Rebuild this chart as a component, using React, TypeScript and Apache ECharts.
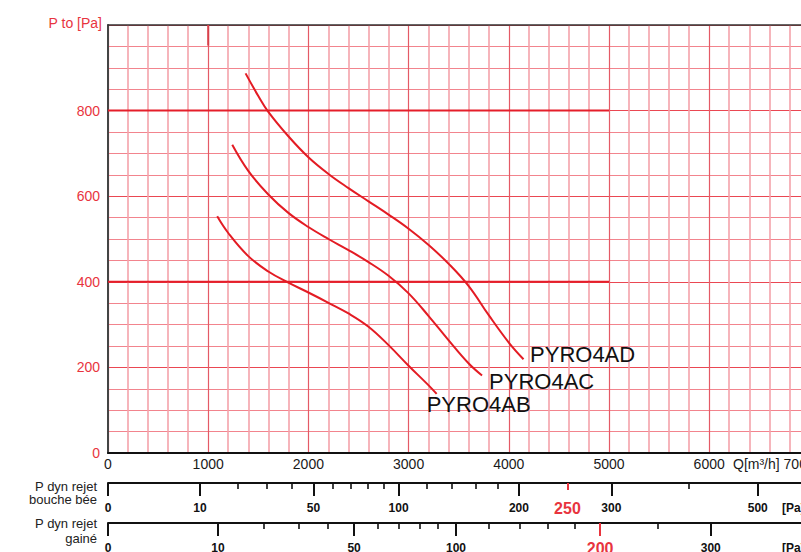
import React, { useEffect, useRef } from "react";
import * as echarts from "echarts";

// ---- data ----
const qMax = 7000;
const qLabelLast = 6000;
const pMax = 1000;
const thickLevels = [400, 800];
const thickEnd = 5000;
const markQ = 1000;
const markRange = [1000, 952];

const curveNames = ["PYRO4AB", "PYRO4AC", "PYRO4AD"];
const curveAB: number[][] = [
  [1090, 553], [1200, 514], [1400, 460], [1600, 424], [1800, 398], [2000, 375],
  [2200, 351], [2400, 326], [2600, 295], [2800, 252], [3000, 204], [3200, 158], [3280, 138],
];
const curveAC: number[][] = [
  [1240, 720], [1400, 659], [1600, 604], [1800, 561], [2000, 528], [2200, 500],
  [2400, 474], [2600, 446], [2800, 414], [3000, 373], [3200, 320], [3400, 263],
  [3600, 209], [3733, 181],
];
const curveAD: number[][] = [
  [1373, 887], [1500, 834], [1600, 797], [1800, 740], [2000, 691], [2200, 652],
  [2400, 619], [2600, 588], [2800, 557], [3000, 524], [3200, 486], [3400, 442],
  [3600, 390], [3800, 322], [4000, 258], [4147, 219],
];

// dynamic pressure scales (Pa); position Q = k * sqrt(Pd)
const kBouche = 290;
const bbMajor = [0, 10, 50, 100, 200, 300, 500];
const bbMinor = [20, 30, 40, 60, 70, 80, 90, 120, 140, 160, 180, 400];
const bbRed = [250];
const kGaine = 347.3;
const gMajor = [0, 10, 50, 100, 300];
const gMinor = [20, 30, 40, 60, 70, 80, 90, 120, 140, 160, 180, 250];
const gRed = [200];

const scaleTitles = ["P dyn rejet\nbouche bée", "P dyn rejet\ngainé"];
const unitLabel = "[Pa]";
const qTitle = "Q[m³/h] 7000";
const yTitle = "P to [Pa]";

// ---- styles ----
const FONT = "Liberation Sans, Arial, Helvetica, sans-serif";
const RED = "#e8343e";
const CURVE = "#e31b23";
const labelOffsets: Record<string, number[]> = {
  PYRO4AB: [-18, 11],
  PYRO4AC: [-1, 6],
  PYRO4AD: [-1.5, -5],
};

function scaleAxis(
  values: number[],
  k: number,
  offset: number,
  o: { line: boolean; tickLen: number; tickColor: string; tickWidth: number; labels: boolean; labelColor?: string; labelSize?: number; margin?: number }
) {
  const qs = values.map((v) => k * Math.sqrt(v));
  return {
    type: "value",
    gridIndex: 0,
    min: 0,
    max: qMax,
    position: "bottom",
    offset,
    axisLine: { show: o.line, onZero: false, lineStyle: { color: "#111", width: 2 } },
    axisTick: {
      show: true,
      customValues: qs,
      length: o.tickLen,
      lineStyle: { color: o.tickColor, width: o.tickWidth },
    },
    axisLabel: {
      show: o.labels,
      customValues: qs,
      formatter: (q: number) => String(Math.round((q / k) * (q / k))),
      fontFamily: FONT,
      fontWeight: "bold",
      fontSize: o.labelSize || 12,
      color: o.labelColor || "#111",
      margin: o.margin ?? 19,
    },
    splitLine: { show: false },
    minorSplitLine: { show: false },
  };
}

export default function App() {
  const ref = useRef<HTMLDivElement>(null);
  useEffect(() => {
    document.body.style.margin = "0";
    if (!ref.current) return;
    const chart = echarts.init(ref.current, undefined, { renderer: "svg" });

    const curves = [curveAB, curveAC, curveAD];
    const curveSeries = curves.map((d, i) => ({
      type: "line",
      name: curveNames[i],
      xAxisIndex: 0,
      yAxisIndex: 0,
      data: d,
      smooth: 0.4,
      showSymbol: false,
      symbol: "none",
      silent: true,
      z: 5,
      lineStyle: { color: CURVE, width: 2 },
      endLabel: {
        show: true,
        formatter: curveNames[i],
        fontFamily: FONT,
        fontSize: 22,
        color: "#111",
        offset: labelOffsets[curveNames[i]],
      },
    }));

    const thickSeries = thickLevels.map((lv) => ({
      type: "line",
      xAxisIndex: 0,
      yAxisIndex: 0,
      data: [
        [0, lv],
        [thickEnd, lv],
      ],
      symbol: "none",
      silent: true,
      z: 3,
      lineStyle: { color: "#e51e2a", width: 2 },
    }));

    const markSeries = {
      type: "line",
      xAxisIndex: 0,
      yAxisIndex: 0,
      data: markRange.map((p) => [markQ, p]),
      symbol: "none",
      silent: true,
      z: 3,
      lineStyle: { color: "#d8404a", width: 2 },
    };

    const option = {
      animation: false,
      backgroundColor: "#ffffff",
      grid: { left: 108, top: 25, width: 701.4, height: 428, containLabel: false, outerBoundsMode: "none" },
      xAxis: [
        {
          type: "value",
          min: 0,
          max: qMax,
          interval: 1000,
          position: "bottom",
          offset: 0,
          axisLine: { show: true, onZero: false, lineStyle: { color: "#111", width: 2 } },
          axisTick: { show: false },
          axisLabel: {
            margin: 4,
            color: "#1a1a1a",
            fontSize: 14,
            fontFamily: FONT,
            formatter: (v: number) => (v > qLabelLast ? "" : String(v)),
          },
          splitLine: { show: true, lineStyle: { color: "#e45a66", width: 1.2 } },
          minorTick: { show: false, splitNumber: 5 },
          minorSplitLine: { show: true, lineStyle: { color: "#f4a2aa", width: 1.6 } },
        },
        {
          type: "value",
          min: 0,
          max: qMax,
          position: "top",
          axisLine: { show: true, onZero: false, lineStyle: { color: "#333", width: 1.5 } },
          axisTick: { show: false },
          axisLabel: { show: false },
          splitLine: { show: false },
        },
        scaleAxis(bbMajor, kBouche, 30, { line: true, tickLen: 13, tickColor: "#111", tickWidth: 2, labels: true }),
        scaleAxis(bbMinor, kBouche, 30, { line: false, tickLen: 6, tickColor: "#111", tickWidth: 1.6, labels: false }),
        scaleAxis(bbRed, kBouche, 30, { line: false, tickLen: 7, tickColor: RED, tickWidth: 2, labels: true, labelColor: RED, labelSize: 16, margin: 17 }),
        scaleAxis(gMajor, kGaine, 70, { line: true, tickLen: 13, tickColor: "#111", tickWidth: 2, labels: true }),
        scaleAxis(gMinor, kGaine, 70, { line: false, tickLen: 6, tickColor: "#111", tickWidth: 1.6, labels: false }),
        scaleAxis(gRed, kGaine, 70, { line: false, tickLen: 13, tickColor: RED, tickWidth: 2, labels: true, labelColor: RED, labelSize: 16, margin: 17 }),
      ],
      yAxis: [
        {
          type: "value",
          min: 0,
          max: pMax,
          interval: 200,
          name: yTitle,
          nameLocation: "end",
          nameGap: 2,
          nameTextStyle: {
            color: RED,
            fontSize: 14,
            fontFamily: FONT,
            align: "right",
            verticalAlign: "middle",
            padding: [0, 6, 0, 0],
          },
          axisLine: { show: true, onZero: false, lineStyle: { color: "#444", width: 2 } },
          axisTick: { show: false },
          axisLabel: { color: RED, fontSize: 14, fontFamily: FONT, margin: 8, showMaxLabel: false },
          splitLine: { show: true, lineStyle: { color: "#ea4752", width: 1.2 } },
          minorTick: { show: false, splitNumber: 4 },
          minorSplitLine: { show: true, lineStyle: { color: "#f2848d", width: 1.2 } },
        },
      ],
      graphic: [
        {
          type: "text",
          x: 97,
          y: 493,
          silent: true,
          style: { text: scaleTitles[0], align: "right", verticalAlign: "middle", fontSize: 13, lineHeight: 13.5, fill: "#222", fontFamily: FONT },
        },
        {
          type: "text",
          x: 97,
          y: 531,
          silent: true,
          style: { text: scaleTitles[1], align: "right", verticalAlign: "middle", fontSize: 13, lineHeight: 14.5, fill: "#222", fontFamily: FONT },
        },
        {
          type: "text",
          x: 782,
          y: 508,
          silent: true,
          style: { text: unitLabel, align: "left", verticalAlign: "middle", fontSize: 12, fontWeight: "bold", fill: "#111", fontFamily: FONT },
        },
        {
          type: "text",
          x: 782,
          y: 548,
          silent: true,
          style: { text: unitLabel, align: "left", verticalAlign: "middle", fontSize: 12, fontWeight: "bold", fill: "#111", fontFamily: FONT },
        },
        {
          type: "text",
          x: 733,
          y: 464,
          silent: true,
          style: { text: qTitle, align: "left", verticalAlign: "middle", fontSize: 14, fill: "#1a1a1a", fontFamily: FONT },
        },
      ],
      series: [...thickSeries, markSeries, ...curveSeries],
    };

    chart.setOption(option as any);
    return () => chart.dispose();
  }, []);

  return <div ref={ref} style={{ width: 801, height: 552 }} />;
}
